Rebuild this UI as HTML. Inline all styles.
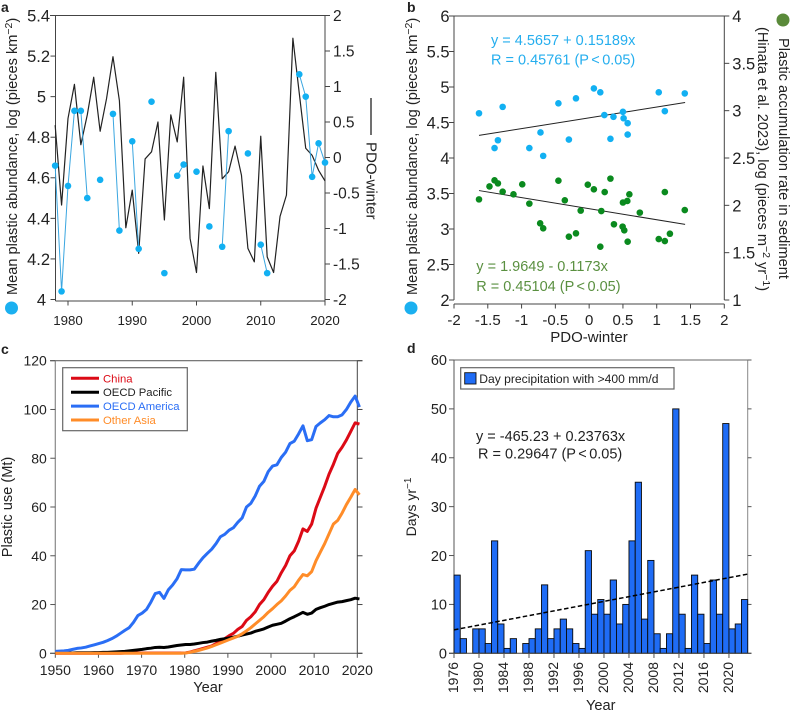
<!DOCTYPE html>
<html><head><meta charset="utf-8"><title>Plastic abundance chart</title>
<style>
html,body{margin:0;padding:0;background:#fff}
svg{display:block}
text{font-family:"Liberation Sans",sans-serif;fill:#222}
</style></head>
<body>
<svg id="fig" width="791" height="711" viewBox="0 0 791 711" xmlns="http://www.w3.org/2000/svg">
<g id="panelA">
  <text x="1" y="12" font-size="14" font-weight="bold" fill="#111">a</text>
  <text transform="translate(17,295) rotate(-90)" font-size="14.6">Mean plastic abundance, log (pieces km<tspan dy="-5" font-size="10.5">−2</tspan><tspan dy="5">)</tspan></text>
  <circle cx="11.5" cy="308" r="6.5" fill="#1bb0f0"/>
  <text transform="translate(366.5,142) rotate(90)" font-size="15">PDO-winter</text>
  <line x1="371" y1="98" x2="371" y2="135" stroke="#222" stroke-width="1.3"/>
</g>
<g id="panelB">
  <text x="407" y="12" font-size="14" font-weight="bold" fill="#111">b</text>
  <text transform="translate(417,295) rotate(-90)" font-size="14.6">Mean plastic abundance, log (pieces km<tspan dy="-5" font-size="10.5">−2</tspan><tspan dy="5">)</tspan></text>
  <circle cx="411" cy="308" r="6.5" fill="#1bb0f0"/>
  <circle cx="783" cy="20" r="6.5" fill="#5a8a3a"/>
  <text transform="translate(779,38) rotate(90)" font-size="14.6">Plastic accumulation rate in sediment</text>
  <text transform="translate(758,27) rotate(90)" font-size="14.6">(Hinata et al. 2023), log (pieces m<tspan dy="-5" font-size="10.5">−2</tspan><tspan dy="5"> yr</tspan><tspan dy="-5" font-size="10.5">−1</tspan><tspan dy="5">)</tspan></text>
  <text x="589" y="342" font-size="15" text-anchor="middle">PDO-winter</text>
  <text x="491" y="45" font-size="14.5" style="fill:#25aeee">y = 4.5657 + 0.15189x</text>
  <text x="491" y="64.5" font-size="14.5" style="fill:#25aeee">R = 0.45761 (P<tspan dx="-1.5"> &lt;</tspan><tspan dx="-1.5"> 0.05)</tspan></text>
  <text x="476.3" y="271" font-size="14.5" style="fill:#5a9040">y = 1.9649 - 0.1173x</text>
  <text x="476.3" y="291" font-size="14.5" style="fill:#5a9040">R = 0.45104 (P<tspan dx="-1.5"> &lt;</tspan><tspan dx="-1.5"> 0.05)</tspan></text>
</g>
<g id="panelC">
  <text x="1" y="354" font-size="14" font-weight="bold" fill="#111">c</text>
  <text transform="translate(12,507) rotate(-90)" font-size="14.6" text-anchor="middle">Plastic use (Mt)</text>
  <text x="208" y="692" font-size="14.6" text-anchor="middle">Year</text>
</g>
<g id="panelD">
  <text x="407" y="353" font-size="14" font-weight="bold" fill="#111">d</text>
  <text transform="translate(416,507) rotate(-90)" font-size="14" text-anchor="middle">Days yr<tspan dy="-5" font-size="10">−1</tspan></text>
  <text x="600.7" y="710" font-size="14.6" text-anchor="middle">Year</text>
  <text x="476" y="441" font-size="14.5">y = -465.23 + 0.23763x</text>
  <text x="478" y="458.7" font-size="14.5">R = 0.29647 (P<tspan dx="-1.5"> &lt;</tspan><tspan dx="-1.5"> 0.05)</tspan></text>
</g>
<script>
// Panel a data
var yearsA = [1978,1979,1980,1981,1982,1983,1984,1985,1986,1987,1988,1989,1990,1991,1992,1993,1994,1995,1996,1997,1998,1999,2000,2001,2002,2003,2004,2005,2006,2007,2008,2009,2010,2011,2012,2013,2014,2015,2016,2017,2018,2019,2020];
var pdoWinter = [0.455,-0.67,0.55,1.03,0.18,0.6,1.13,0.37,0.83,1.42,0.8,-0.99,-0.46,-1.35,-0.02,0.08,0.5,-0.88,0.6,0.22,1.13,-1.14,-1.62,-0.12,-0.72,1.2,-0.3,-0.2,0.16,-0.25,-1.28,-1.47,0.3,-1.4,-1.62,-0.83,-0.53,1.68,0.9,0.13,0.03,-0.18,-0.33];
var abundance = [4.66,4.04,4.56,4.93,4.93,4.50,null,4.59,null,4.915,4.34,null,4.78,4.25,null,4.975,null,4.13,null,4.61,4.665,null,4.63,null,4.36,null,4.26,4.83,null,null,4.72,null,4.27,4.13,null,null,null,null,5.11,5.0,4.605,4.77,4.675];
var ticksALeft = ["4","4.2","4.4","4.6","4.8","5","5.2","5.4"];
var ticksARight = ["-2","-1.5","-1","-0.5","0","0.5","1","1.5","2"];
var ticksAX = ["1980","1990","2000","2010","2020"];

// Panel b data
var blueX = [-1.63,-1.40,-1.35,-1.28,-0.885,-0.72,-0.68,-0.455,-0.30,-0.195,0.07,0.165,0.225,0.36,0.315,0.50,0.51,0.57,0.57,1.03,1.12,1.415];
var blueY = [4.63,4.14,4.25,4.72,4.14,4.36,4.03,4.77,4.26,4.84,4.98,4.925,4.605,4.58,4.27,4.65,4.56,4.49,4.33,4.925,4.66,4.91];
var greenX = [-1.63,-1.475,-1.40,-1.35,-1.28,-1.12,-0.99,-0.885,-0.725,-0.68,-0.455,-0.36,-0.30,-0.195,-0.125,-0.02,0.07,0.165,0.18,0.23,0.315,0.367,0.495,0.50,0.52,0.565,0.57,0.595,0.75,1.03,1.12,1.12,1.195,1.415];
var greenY = [2.063,2.20,2.264,2.232,2.144,2.116,2.222,2.018,1.81,1.757,2.26,2.053,1.669,1.704,1.944,2.218,2.169,1.563,1.94,2.14,2.282,1.80,1.775,2.03,1.736,2.046,1.616,2.116,1.923,1.644,1.623,2.14,1.70,1.95];
var blueFit = [4.5657,0.15189];
var greenFit = [1.9649,-0.1173];
var fitRange = [-1.63,1.42];
var ticksBLeft = ["2","2.5","3","3.5","4","4.5","5","5.5","6"];
var ticksBRight = ["1","1.5","2","2.5","3","3.5","4"];
var ticksBX = ["-2","-1.5","-1","-0.5","0","0.5","1","1.5","2"];

// Panel c data (1950..2020)
var china = [0,0,0,0,0,0,0,0,0,0,0,0,0,0,0,0,0.1,0.1,0.1,0.1,0.1,0.1,0.1,0.1,0.1,0.1,0.1,0.1,0.1,0.1,0.2,0.5,1,1.5,2,2.5,3,4,5,6,7.2,8.2,9.8,11,13.5,15,17,20,22,25,27.5,29.5,33,36,40,42,46,51,50,53,59.5,64,68.5,73.5,77.5,82,84.5,87.5,91,94.5,94];
var oecdPacific = [0.1,0.1,0.1,0.1,0.1,0.2,0.2,0.2,0.2,0.3,0.3,0.4,0.4,0.5,0.6,0.7,0.8,1,1.2,1.4,1.6,1.9,2.1,2.4,2.5,2.4,2.6,2.9,3.2,3.4,3.6,3.6,3.8,4.1,4.4,4.6,5,5.3,5.7,6,6.3,6.6,7,7.5,7.9,8.3,9,9.5,10,10.8,11.5,11.9,12.3,13.2,14.2,15,15.9,16.8,16,16.5,18,18.7,19.3,20,20.5,21,21.2,21.6,22,22.6,22.3];
var oecdAmerica = [0.8,0.9,1,1.2,1.6,2,2.2,2.5,3,3.5,4,4.5,5.2,6,7,8.2,9.4,10.5,12.7,15.5,16.5,18,21,24.5,25,22.5,26,28,30.5,34.3,34.2,34.2,34.5,37,39.2,41,42.7,45,47.8,48.8,50.5,51.5,53.7,55.5,60,61.5,64.5,68.5,70.5,74.5,76.8,77.3,80.3,82.5,86,87,90,93.3,87.2,87.6,93,94.5,95.8,97.5,97,97,97.8,100,103,105.5,101];
var otherAsia = [0,0,0,0,0,0,0,0,0,0,0,0,0,0,0,0,0,0,0,0,0,0,0,0,0,0,0,0,0,0,0.1,0.4,0.8,1.2,1.7,2.2,2.8,3.5,4.2,4.9,5.6,6.3,7,8,9.2,10.5,12,13.5,15,16.8,18.3,20,21.5,23.5,25.8,27.3,30,32.3,31.8,33.5,38,41.5,45,49,53,54.5,57.5,61,64,67.2,65];
var seriesCNames = ["China","OECD Pacific","OECD America","Other Asia"];
var ticksCY = ["0","20","40","60","80","100","120"];
var ticksCX = ["1950","1960","1970","1980","1990","2000","2010","2020"];

// Panel d data (1976..2022)
var daysOver400 = [16,3,0,5,5,2,23,6,1,3,0,2,3,5,14,3,5,7,5,2,1,21,8,11,8,15,6,10,23,35,7,19,4,1,4,50,8,1,16,8,2,15,8,47,5,6,11];
var ticksDY = ["0","10","20","30","40","50","60"];
var ticksDX = ["1976","1980","1984","1988","1992","1996","2000","2004","2008","2012","2016","2020"];
var trendYears = [1978,2026];
var trendDays = [4.8,16.2];

var NS = 'http://www.w3.org/2000/svg';
function mk(tag, parent){ var e = document.createElementNS(NS, tag); parent.appendChild(e); return e; }
function seg(p, x1, y1, x2, y2, col, w){
  var e = mk('line', p);
  e.setAttribute('x1', x1); e.setAttribute('y1', y1); e.setAttribute('x2', x2); e.setAttribute('y2', y2);
  e.setAttribute('stroke', col); e.setAttribute('stroke-width', w);
  return e;
}
function txt(p, x, y, s, size, anchor){
  var e = mk('text', p);
  e.setAttribute('x', x); e.setAttribute('y', y); e.setAttribute('font-size', size);
  e.setAttribute('text-anchor', anchor); e.textContent = s;
  return e;
}
function dot(p, x, y, r, col){
  var e = mk('circle', p);
  e.setAttribute('cx', x); e.setAttribute('cy', y); e.setAttribute('r', r); e.setAttribute('fill', col);
  return e;
}
function polyPath(p, d, col, w){
  var e = mk('path', p);
  e.setAttribute('d', d); e.setAttribute('fill', 'none'); e.setAttribute('stroke', col);
  e.setAttribute('stroke-width', w); e.setAttribute('stroke-linejoin', 'round');
  return e;
}
function scale(d0, d1, r0, r1){ return function(v){ return r0 + (v - d0) * (r1 - r0) / (d1 - d0); }; }
function frame(p, x1, y1, x2, y2, col, w){
  var e = seg(p, x1, y1, x2, y2, col, w);
  
  
  return e;
}
function yTicksOut(p, labels, yFn, axisX, dir, size, col, labelGap, shortShift){
  labels.forEach(function(l){
    var y = yFn(parseFloat(l));
    var t = seg(p, axisX, y, axisX + dir * 5, y, col, 1);
    
    
    var shift = (shortShift && l.length === 1) ? shortShift : 0;
    var tx = txt(p, axisX + dir * (labelGap + shift), y + size * 0.36, l, size, dir < 0 ? 'end' : 'start');
    
    
  });
}
function xTicksOut(p, labels, xFn, axisY, size, col, labelBase){
  labels.forEach(function(l){
    var x = xFn(parseFloat(l));
    var t = seg(p, x, axisY, x, axisY + 4.5, col, 1);
    
    
    var tx = txt(p, x, labelBase, l, size, 'middle');
    
    
  });
}

/* ---------- Panel a ---------- */
(function(){
  var p = document.getElementById('panelA');
  var X = scale(1980, 2020, 68, 325);
  var YL = scale(4, 5.4, 299.5, 15.5);
  var YR = scale(-2, 2, 299.5, 15.5);
  var c = '#444';
  frame(p, 50, 15.5, 330, 15.5, c, 1);
  frame(p, 55.5, 15.5, 55.5, 301, c, 1);
  frame(p, 325, 15.5, 325, 301, c, 1);
  frame(p, 55.5, 301, 325, 301, c, 1);
  yTicksOut(p, ticksALeft, YL, 55.5, -1, 16.5, c, 5.5, 4);
  yTicksOut(p, ticksARight, YR, 325, 1, 15.5, c, 8);
  xTicksOut(p, ticksAX, X, 301, 13.3, c, 325);

  var d = '';
  yearsA.forEach(function(y, i){ d += (i ? 'L' : 'M') + X(y).toFixed(2) + ' ' + YR(pdoWinter[i]).toFixed(2); });
  var pdo = polyPath(p, d, '#222', 1.2);
  
  

  var d2 = '', prev = false;
  yearsA.forEach(function(y, i){
    if (abundance[i] === null) { prev = false; return; }
    d2 += (prev ? 'L' : 'M') + X(y).toFixed(2) + ' ' + YL(abundance[i]).toFixed(2);
    prev = true;
  });
  var ab = polyPath(p, d2, '#3aa6e0', 1);
  
  
  yearsA.forEach(function(y, i){
    if (abundance[i] === null) return;
    var e = dot(p, X(y), YL(abundance[i]), 3.3, '#12b0f2');
    
    
  });
})();

/* ---------- Panel b ---------- */
(function(){
  var p = document.getElementById('panelB');
  var X = scale(-2, 2, 454, 724.3);
  var YL = scale(2, 6, 300, 16);
  var YR = scale(1, 4, 300, 16);
  var c = '#444';
  frame(p, 449, 16, 729, 16, c, 1);
  frame(p, 454, 16, 454, 300, c, 1);
  frame(p, 724.3, 16, 724.3, 300, c, 1);
  frame(p, 454, 304, 724.3, 304, c, 1);
  yTicksOut(p, ticksBLeft, YL, 454, -1, 16.5, c, 4.5);
  yTicksOut(p, ticksBRight, YR, 724.3, 1, 16.5, c, 8);
  xTicksOut(p, ticksBX, X, 304, 15, c, 325);

  var lb = seg(p, X(fitRange[0]), YL(blueFit[0] + blueFit[1] * fitRange[0]), X(fitRange[1]), YL(blueFit[0] + blueFit[1] * fitRange[1]), '#222', 1);
  
  
  var lg = seg(p, X(fitRange[0]), YR(greenFit[0] + greenFit[1] * fitRange[0]), X(fitRange[1]), YR(greenFit[0] + greenFit[1] * fitRange[1]), '#222', 1);
  
  

  blueX.forEach(function(v, i){
    var e = dot(p, X(v), YL(blueY[i]), 3.3, '#12b0f2');
    
    
  });
  greenX.forEach(function(v, i){
    var e = dot(p, X(v), YR(greenY[i]), 3.3, '#0a8a1e');
    
    
  });
})();

/* ---------- Panel c ---------- */
(function(){
  var p = document.getElementById('panelC');
  var X = scale(1950, 2020, 55.3, 357.3);
  var Y = scale(0, 120, 653.3, 360.7);
  var lastYear = 2020.5;
  function dataX(i){ return X(1950 + i * (lastYear - 1950) / 70); }
  var c = '#555';
  frame(p, 50, 360.7, 362.5, 360.7, '#666', 1.2);
  frame(p, 55.3, 360.7, 55.3, 653.3, '#888', 1.2);
  frame(p, 357.3, 360.7, 357.3, 653.3, '#444', 1);
  frame(p, 50, 653.3, 362.5, 653.3, '#666', 1.2);
  yTicksOut(p, ticksCY, Y, 55.3, -1, 14, c, 8.5);
  ticksCY.forEach(function(l){
    var t = seg(p, 357.3, Y(parseFloat(l)), 362.5, Y(parseFloat(l)), '#444', 1);
    
    
  });
  xTicksOut(p, ticksCX, X, 653.3, 14, c, 675);

  var seriesCData = [china, oecdPacific, oecdAmerica, otherAsia];
  var seriesCColors = ['#dc0a16', '#000000', '#2a6ef5', '#ff8c28'];
  seriesCData.forEach(function(vals, s){
    var d = '';
    vals.forEach(function(v, i){ d += (i ? 'L' : 'M') + dataX(i).toFixed(2) + ' ' + Y(v).toFixed(2); });
    var e = polyPath(p, d, seriesCColors[s], 3);
    
    
  });

  var box = mk('rect', p);
  box.setAttribute('x', 62.7); box.setAttribute('y', 367.7); box.setAttribute('width', 124.6); box.setAttribute('height', 63);
  box.setAttribute('fill', '#fff'); box.setAttribute('stroke', '#666'); box.setAttribute('stroke-width', 1.2);
  
  
  seriesCNames.forEach(function(n, s){
    var ly = 378.3 + s * 13.9;
    var l = seg(p, 71, ly, 99, ly, seriesCColors[s], 3);
    
    
    var t = txt(p, 103, ly + 4, n, 11.3, 'start');
    t.setAttribute('style', 'fill:' + (s === 1 ? '#222' : seriesCColors[s]));
    
    
  });
})();

/* ---------- Panel d ---------- */
(function(){
  var p = document.getElementById('panelD');
  var L = 454, R = 747.7;
  var n = daysOver400.length;
  var X = function(year){ return L + (year - 1976) * (R - L) / n; };
  var Y = scale(0, 60, 653.3, 360);
  var T = scale(trendYears[0], trendYears[1], L, R);
  var c = '#555';
  frame(p, 449, 360, 751.5, 360, '#666', 1);
  frame(p, L, 360, L, 653.3, '#555', 1);
  frame(p, R, 360, R, 653.3, '#888', 1);
  yTicksOut(p, ticksDY, Y, L, -1, 14.5, c, 7);
  ticksDY.forEach(function(l){
    var t = seg(p, R, Y(parseFloat(l)), 751.5, Y(parseFloat(l)), '#555', 1);
    
    
  });

  daysOver400.forEach(function(v, i){
    if (v === 0) return;
    var b = mk('rect', p);
    b.setAttribute('x', X(1976 + i));
    b.setAttribute('y', Y(v));
    b.setAttribute('width', (R - L) / n);
    b.setAttribute('height', Y(0) - Y(v));
    b.setAttribute('fill', '#1f6cf5');
    b.setAttribute('stroke', '#0a0a0a');
    b.setAttribute('stroke-width', 0.9);
    
    
  });
  frame(p, 449, 653.3, 751.5, 653.3, '#444', 1);

  ticksDX.forEach(function(l){
    var yr = parseFloat(l);
    var t = seg(p, X(yr), 653.3, X(yr), 658, c, 1);
    
    
    var e = txt(p, 0, 0, l, 14, 'end');
    e.setAttribute('transform', 'translate(' + (X(yr) + 4) + ',662) rotate(-90)');
    
    
  });

  var tr = seg(p, T(trendYears[0]), Y(trendDays[0]), T(trendYears[1]), Y(trendDays[1]), '#000', 1.5);
  tr.setAttribute('stroke-dasharray', '4.5 2.5');
  
  

  var box = mk('rect', p);
  box.setAttribute('x', 460.7); box.setAttribute('y', 367.7); box.setAttribute('width', 213.3); box.setAttribute('height', 21.3);
  box.setAttribute('fill', '#fff'); box.setAttribute('stroke', '#666'); box.setAttribute('stroke-width', 1.2);
  
  
  var sw = mk('rect', p);
  sw.setAttribute('x', 464.7); sw.setAttribute('y', 372.7); sw.setAttribute('width', 11.3); sw.setAttribute('height', 11.3);
  sw.setAttribute('fill', '#1f6cf5'); sw.setAttribute('stroke', '#111'); sw.setAttribute('stroke-width', 0.9);
  
  
  var lt = txt(p, 479.3, 383, 'Day precipitation with >400 mm/d', 12.1, 'start');
  
  
})();
</script>
</svg>
</body></html>
